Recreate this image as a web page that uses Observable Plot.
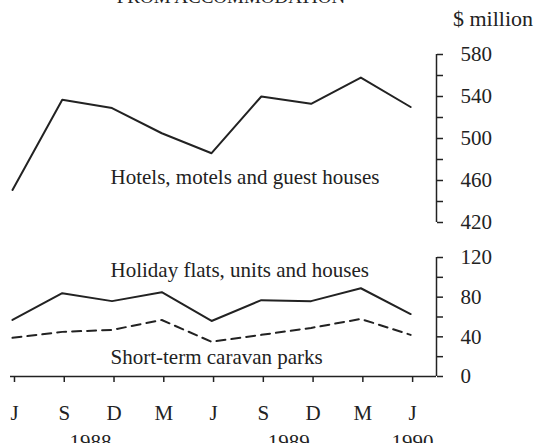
<!DOCTYPE html>
<html><head><meta charset="utf-8">
<script src="https://cdn.jsdelivr.net/npm/d3@7"></script>
<script src="https://cdn.jsdelivr.net/npm/@observablehq/plot@0.6"></script>
<style>
body{margin:0;background:#fff;}
#chart{position:relative;width:536px;height:443px;overflow:hidden;font-family:"Liberation Serif",serif;color:#222;background:#fff;}
#chart svg{position:absolute;left:0;}
.title{position:absolute;left:0;width:462px;text-align:center;top:-13px;font-size:19px;line-height:19px;white-space:nowrap;}
.unit{position:absolute;left:453px;top:8px;font-size:22px;line-height:22px;white-space:nowrap;}
</style></head>
<body>
<div id="chart">
  <div class="title">FROM ACCOMMODATION</div>
  <div class="unit">$ million</div>
</div>
<script>
// Quarter tick labels (June 1988 .. June 1990)
const months = ["J","S","D","M","J","S","D","M","J"];
const periods = [0,1,2,3,4,5,6,7,8];
// Series values ($ million)
const hotels  = [451, 537, 529, 505, 486, 540, 533, 558, 530];
const holiday = [57, 84, 76, 85, 56, 77, 76, 89, 63];
const caravan = [39, 45, 47, 57, 35, 42, 49, 58, 42];
// Year labels and their position along the period axis
const years   = ["1988", "1989", "1990"];
const yearPos = [1.57, 5.55, 8.04];
// Series labels
const labels = ["Hotels, motels and guest houses", "Holiday flats, units and houses", "Short-term caravan parks"];
const topTicks = [420,440,460,480,500,520,540,560,580];
const botTicks = [0,20,40,60,80,100,120];

const ink = "#222";
const xDomain = [-0.04, 8.52];
const font = {fontFamily: '"Liberation Serif", serif', fontSize: "21px", color: ink, background: "transparent", overflow: "visible"};

const topPlot = Plot.plot({
  width: 536, height: 240,
  marginTop: 54, marginBottom: 18, marginLeft: 10, marginRight: 100,
  style: font,
  x: {domain: xDomain, axis: null},
  y: {domain: [420, 580], label: null},
  marks: [
    Plot.ruleX([xDomain[1]], {y1: topTicks[0], y2: topTicks[topTicks.length - 1], stroke: ink, strokeWidth: 1.5}),
    Plot.axisY(topTicks, {anchor: "right", tickSize: 6, tickPadding: 18, textAnchor: "start", strokeWidth: 1.5,
      tickFormat: d => (d - topTicks[0]) % 40 === 0 ? String(d) : "", fontSize: 21, label: null}),
    Plot.lineY(hotels, {x: (d, i) => periods[i], y: d => d, stroke: ink, strokeWidth: 2}),
    Plot.text([labels[0]], {x: 1.97, y: 463, text: d => d, textAnchor: "start", fill: ink, fontSize: 21})
  ]
});

const botPlot = Plot.plot({
  width: 536, height: 213,
  marginTop: 27, marginBottom: 67, marginLeft: 10, marginRight: 100,
  style: font,
  x: {domain: xDomain, label: null},
  y: {domain: [0, 120], label: null},
  marks: [
    Plot.ruleX([xDomain[1]], {y1: botTicks[0], y2: botTicks[botTicks.length - 1], stroke: ink, strokeWidth: 1.5}),
    Plot.ruleY([0], {stroke: ink, strokeWidth: 1.5}),
    Plot.axisY(botTicks, {anchor: "right", tickSize: 6, tickPadding: 18, textAnchor: "start", strokeWidth: 1.5,
      tickFormat: d => d % 40 === 0 ? String(d) : "", fontSize: 21, label: null}),
    Plot.axisX(periods, {anchor: "bottom", tickSize: 6, tickPadding: 23, strokeWidth: 1.5,
      tickFormat: i => months[i], fontSize: 21, dx: 2, label: null}),
    Plot.text(years, {x: (d, i) => yearPos[i], text: d => d, frameAnchor: "bottom", lineAnchor: "top", dy: 58, fill: ink, fontSize: 21}),
    Plot.lineY(holiday, {x: (d, i) => periods[i], y: d => d, stroke: ink, strokeWidth: 2}),
    Plot.lineY(caravan, {x: (d, i) => periods[i], y: d => d, stroke: ink, strokeWidth: 2, strokeDasharray: "9,6"}),
    Plot.text([labels[1]], {x: 1.97, y: 107, text: d => d, textAnchor: "start", fill: ink, fontSize: 21}),
    Plot.text([labels[2]], {x: 1.97, y: 19, text: d => d, textAnchor: "start", fill: ink, fontSize: 21})
  ]
});

const chart = document.getElementById("chart");
topPlot.style.top = "0px";
botPlot.style.top = "230px";
chart.appendChild(topPlot);
chart.appendChild(botPlot);
</script>
</body></html>
